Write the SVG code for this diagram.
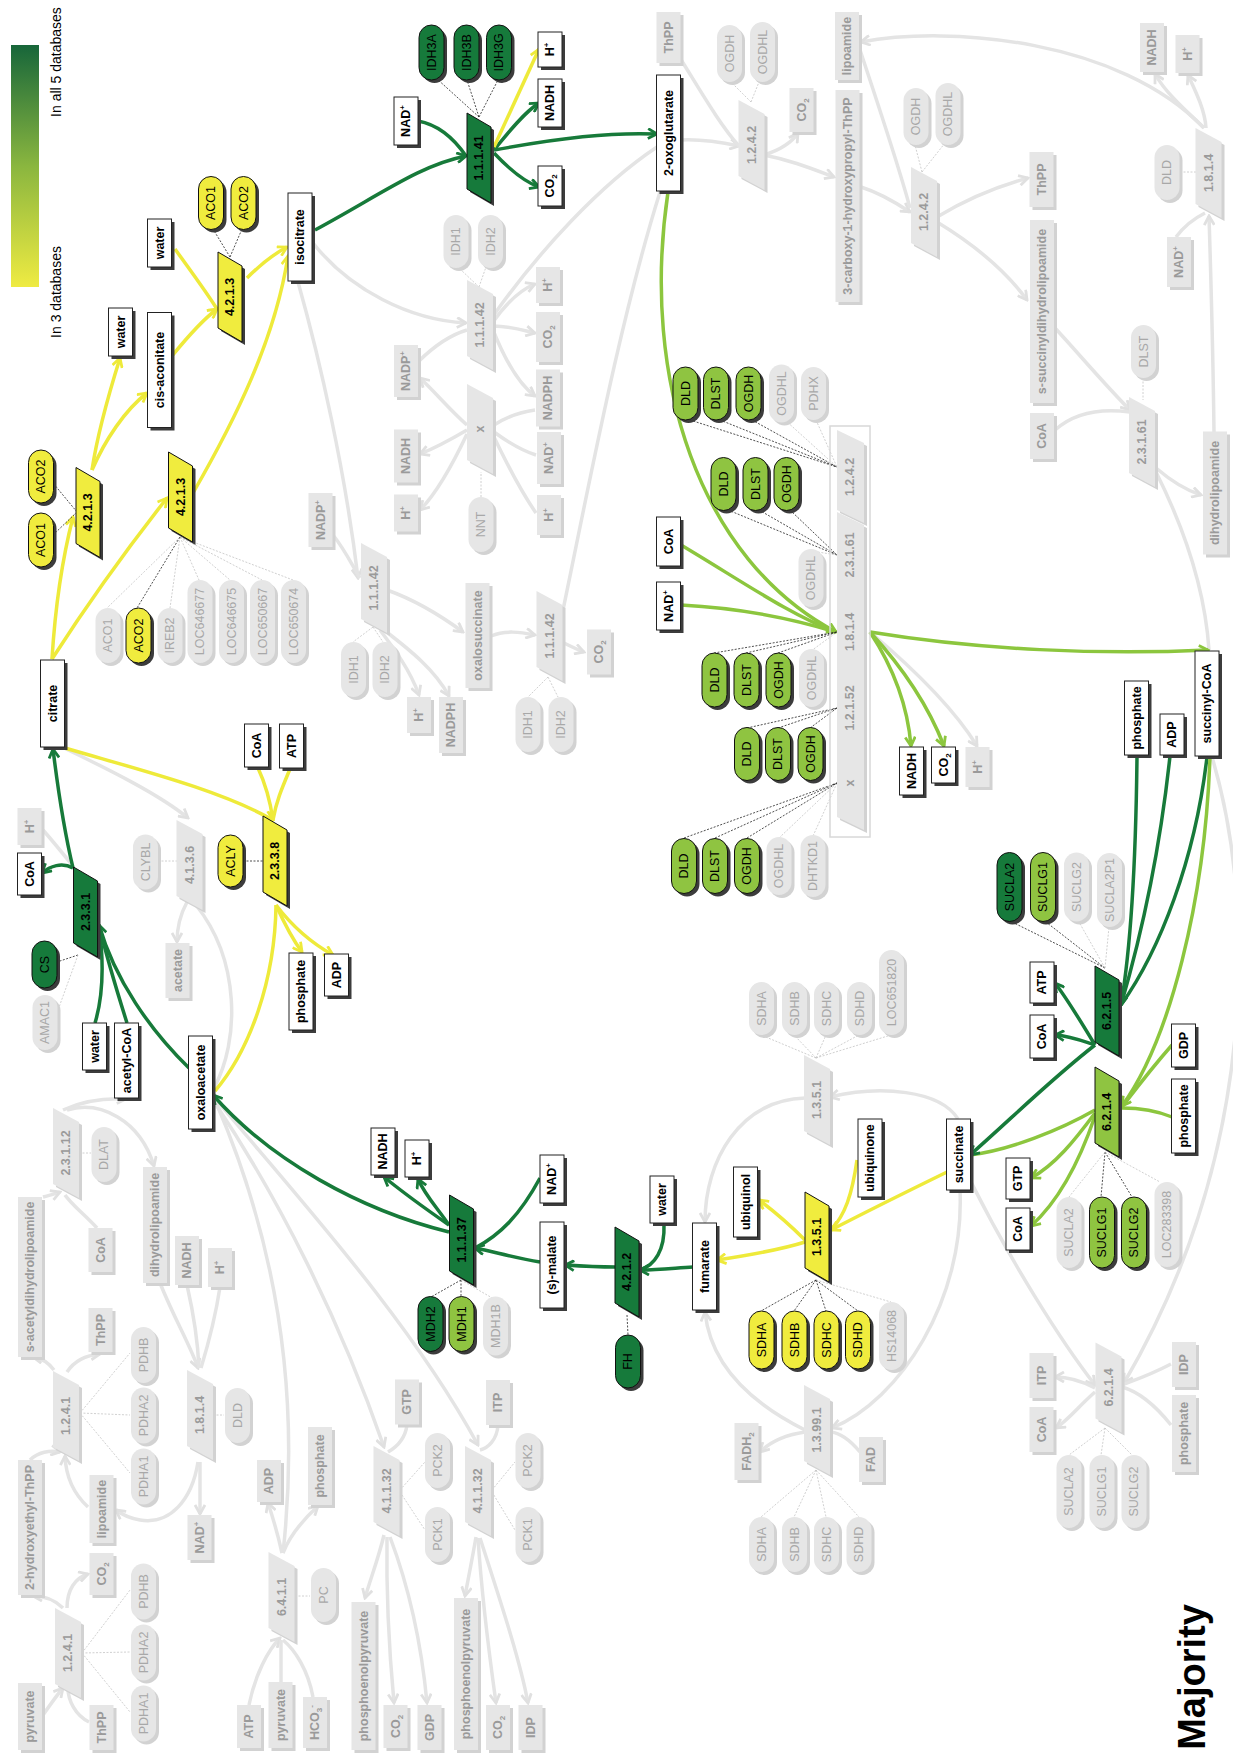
<svg xmlns="http://www.w3.org/2000/svg" width="1233" height="1753" viewBox="0 0 1233 1753">
<style>
text{font-family:"Liberation Sans",Arial,sans-serif;font-size:12.5px;text-anchor:middle}
.b{font-weight:bold;fill:#000}
.bg{font-weight:bold;fill:#9a9a9a}
.n{fill:#000}
.ng{fill:#a8a8a8}
.W{fill:#fff;stroke:#222;stroke-width:1}
.S{fill:#3c3c3c}
.G{fill:#e6e6e6}
.GS{fill:#d2d2d2}
.DG{fill:#167a3b;stroke:#111;stroke-width:1}
.LG{fill:#8fc441;stroke:#111;stroke-width:1}
.YY{fill:#f0ec3e;stroke:#111;stroke-width:1}
.cg{fill:none;stroke:#177a3a;stroke-width:3.5}
.cl{fill:none;stroke:#8cc63e;stroke-width:3.5}
.cy{fill:none;stroke:#eeea3a;stroke-width:3.5}
.ck{fill:none;stroke:#e4e4e4;stroke-width:3.5}
.dk{fill:none;stroke:#222;stroke-width:0.8;stroke-dasharray:2 1.5}
.dg{fill:none;stroke:#c4c4c4;stroke-width:0.8;stroke-dasharray:2 1.5}
</style>
<defs>
<linearGradient id="leg" x1="0" y1="0" x2="0" y2="1">
<stop offset="0" stop-color="#17663a"/><stop offset="0.5" stop-color="#8ab63f"/><stop offset="1" stop-color="#efeb42"/>
</linearGradient>
<marker id="aG" viewBox="0 0 12 12" refX="10" refY="6" markerWidth="12" markerHeight="12" markerUnits="userSpaceOnUse" orient="auto"><path d="M1,1 L10,6 L1,11" fill="none" stroke="#177a3a" stroke-width="2.8"/></marker>
<marker id="aL" viewBox="0 0 12 12" refX="10" refY="6" markerWidth="12" markerHeight="12" markerUnits="userSpaceOnUse" orient="auto"><path d="M1,1 L10,6 L1,11" fill="none" stroke="#8cc63e" stroke-width="2.8"/></marker>
<marker id="aY" viewBox="0 0 12 12" refX="10" refY="6" markerWidth="12" markerHeight="12" markerUnits="userSpaceOnUse" orient="auto"><path d="M1,1 L10,6 L1,11" fill="none" stroke="#eeea3a" stroke-width="2.8"/></marker>
<marker id="aK" viewBox="0 0 12 12" refX="10" refY="6" markerWidth="12" markerHeight="12" markerUnits="userSpaceOnUse" orient="auto"><path d="M1,1 L10,6 L1,11" fill="none" stroke="#e0e0e0" stroke-width="2.8"/></marker>
</defs>
<rect width="1233" height="1753" fill="#fff"/>

<g id="legend">
<rect x="11" y="45" width="28" height="242" fill="url(#leg)"/>
<text transform="translate(56,62) rotate(-90)" dy=".35em" style="font-size:14px">In all 5 databases</text>
<text transform="translate(56,292) rotate(-90)" dy=".35em" style="font-size:14px">In 3 databases</text>
<text transform="translate(1205,1677) rotate(-90)" style="font-size:38px;font-weight:bold">Majority</text>
</g>

<g id="connectors">
<!-- gray -->
<path class="ck" d="M681,140 C700,139 720,142 739,146" marker-end="url(#aK)"/>
<path class="ck" d="M680,58 C700,90 720,125 739,146"/>
<path class="ck" d="M764,155 C780,150 792,142 798,133" marker-end="url(#aK)"/>
<path class="ck" d="M764,155 C790,160 810,168 834,177" marker-end="url(#aK)"/>
<path class="ck" d="M861,187 C880,193 895,202 910,212" marker-end="url(#aK)"/>
<path class="ck" d="M860,50 C880,110 900,170 910,208"/>
<path class="ck" d="M1204,128 C1120,40 950,25 861,42" marker-end="url(#aK)"/>
<path class="ck" d="M1204,128 C1185,110 1165,92 1155,74" marker-end="url(#aK)"/>
<path class="ck" d="M1206,128 C1205,110 1195,90 1188,75" marker-end="url(#aK)"/>
<path class="ck" d="M1176,237 C1185,225 1195,218 1205,213"/>
<path class="ck" d="M1214,432 C1213,350 1211,280 1209,216" marker-end="url(#aK)"/>
<path class="ck" d="M937,217 C965,200 995,187 1028,178" marker-end="url(#aK)"/>
<path class="ck" d="M937,222 C975,245 1005,270 1027,300" marker-end="url(#aK)"/>
<path class="ck" d="M1055,328 C1080,355 1105,385 1130,410" marker-end="url(#aK)"/>
<path class="ck" d="M1055,430 C1075,412 1100,408 1130,412"/>
<path class="ck" d="M1156,468 C1170,480 1185,490 1201,495" marker-end="url(#aK)"/>
<path class="ck" d="M1156,472 C1185,530 1205,590 1209,650"/>
<path class="ck" d="M313,243 C350,290 410,320 466,323" marker-end="url(#aK)"/>
<path class="ck" d="M493,316 C540,250 600,185 657,147"/>
<path class="ck" d="M493,322 C505,305 520,290 535,284" marker-end="url(#aK)"/>
<path class="ck" d="M493,326 C510,326 522,330 535,333" marker-end="url(#aK)"/>
<path class="ck" d="M493,330 C505,360 520,385 535,396" marker-end="url(#aK)"/>
<path class="ck" d="M418,362 C435,345 450,335 467,330"/>
<path class="ck" d="M467,425 C450,410 435,392 420,378" marker-end="url(#aK)"/>
<path class="ck" d="M467,430 C450,440 435,448 420,454" marker-end="url(#aK)"/>
<path class="ck" d="M467,434 C450,470 435,495 420,510" marker-end="url(#aK)"/>
<path class="ck" d="M535,410 C520,412 505,418 494,425"/>
<path class="ck" d="M536,455 C520,450 505,440 494,432"/>
<path class="ck" d="M536,513 C520,490 505,460 494,437"/>
<path class="ck" d="M298,282 C320,360 345,470 358,578" marker-end="url(#aK)"/>
<path class="ck" d="M333,535 C345,550 352,565 360,578"/>
<path class="ck" d="M387,590 C415,600 440,615 463,632" marker-end="url(#aK)"/>
<path class="ck" d="M380,630 C395,650 410,670 419,695" marker-end="url(#aK)"/>
<path class="ck" d="M384,630 C410,650 435,670 449,696" marker-end="url(#aK)"/>
<path class="ck" d="M491,636 C505,630 520,632 535,635" marker-end="url(#aK)"/>
<path class="ck" d="M562,642 C570,646 578,650 584,652" marker-end="url(#aK)"/>
<path class="ck" d="M563,610 C590,480 620,320 660,192"/>
<path class="ck" d="M64,748 C110,770 160,795 188,818" marker-end="url(#aK)"/>
<path class="ck" d="M187,902 C180,915 177,928 177,942" marker-end="url(#aK)"/>
<path class="ck" d="M196,905 C240,960 240,1040 214,1088"/>
<path class="ck" d="M73,866 C60,850 50,838 43,830"/>
<path class="ck" d="M63,1110 C85,1100 105,1098 126,1099" marker-end="url(#aK)"/>
<path class="ck" d="M67,1110 C100,1100 140,1120 154,1166" marker-end="url(#aK)"/>
<path class="ck" d="M43,1197 C50,1195 55,1194 60,1192" marker-end="url(#aK)"/>
<path class="ck" d="M97,1228 C85,1215 72,1205 65,1195"/>
<path class="ck" d="M160,1283 C175,1320 190,1345 198,1368" marker-end="url(#aK)"/>
<path class="ck" d="M187,1285 C195,1320 198,1345 199,1368"/>
<path class="ck" d="M220,1287 C215,1320 208,1345 201,1368"/>
<path class="ck" d="M200,1462 L200,1514" marker-end="url(#aK)"/>
<path class="ck" d="M198,1462 C192,1500 170,1525 140,1520 C128,1518 120,1513 116,1510" marker-end="url(#aK)"/>
<path class="ck" d="M88,1507 C75,1495 66,1480 65,1456" marker-end="url(#aK)"/>
<path class="ck" d="M54,1370 C48,1362 40,1358 33,1357" marker-end="url(#aK)"/>
<path class="ck" d="M67,1372 C75,1360 88,1355 100,1354" marker-end="url(#aK)"/>
<path class="ck" d="M30,1460 C38,1452 50,1450 60,1452" marker-end="url(#aK)"/>
<path class="ck" d="M63,1608 C55,1600 45,1596 33,1596" marker-end="url(#aK)"/>
<path class="ck" d="M67,1608 C67,1590 75,1578 88,1574" marker-end="url(#aK)"/>
<path class="ck" d="M43,1715 C50,1705 57,1695 63,1688" marker-end="url(#aK)"/>
<path class="ck" d="M89,1722 C75,1715 68,1700 68,1688"/>
<path class="ck" d="M249,1705 C255,1675 268,1650 280,1638" marker-end="url(#aK)"/>
<path class="ck" d="M281,1682 L281,1640"/>
<path class="ck" d="M313,1697 C308,1670 295,1650 283,1640"/>
<path class="ck" d="M282,1553 C278,1535 272,1515 268,1503" marker-end="url(#aK)"/>
<path class="ck" d="M283,1553 C290,1535 305,1518 318,1506" marker-end="url(#aK)"/>
<path class="ck" d="M283,1553 C300,1400 280,1250 215,1100"/>
<path class="ck" d="M213,1100 C280,1200 340,1320 384,1447" marker-end="url(#aK)"/>
<path class="ck" d="M213,1096 C300,1200 410,1320 478,1445" marker-end="url(#aK)"/>
<path class="ck" d="M407,1425 C405,1440 395,1448 388,1452"/>
<path class="ck" d="M498,1425 C497,1440 488,1448 480,1450"/>
<path class="ck" d="M384,1535 C378,1560 370,1580 365,1598" marker-end="url(#aK)"/>
<path class="ck" d="M387,1537 C386,1600 390,1660 394,1703" marker-end="url(#aK)"/>
<path class="ck" d="M390,1537 C410,1590 422,1650 427,1703" marker-end="url(#aK)"/>
<path class="ck" d="M476,1537 C472,1560 468,1580 465,1596" marker-end="url(#aK)"/>
<path class="ck" d="M478,1538 C482,1600 490,1660 496,1703" marker-end="url(#aK)"/>
<path class="ck" d="M480,1538 C500,1600 520,1660 528,1703" marker-end="url(#aK)"/>
<path class="ck" d="M805,1098 C740,1100 705,1160 705,1222" marker-end="url(#aK)"/>
<path class="ck" d="M958,1119 C940,1090 880,1085 830,1097" marker-end="url(#aK)"/>
<path class="ck" d="M960,1190 C965,1300 900,1400 832,1428" marker-end="url(#aK)"/>
<path class="ck" d="M805,1430 C745,1400 710,1360 705,1312" marker-end="url(#aK)"/>
<path class="ck" d="M805,1432 C785,1435 770,1442 760,1452" marker-end="url(#aK)"/>
<path class="ck" d="M860,1452 C850,1440 840,1433 831,1432"/>
<path class="ck" d="M970,1180 C1010,1260 1060,1340 1095,1385" marker-end="url(#aK)"/>
<path class="ck" d="M1212,757 C1255,900 1260,1150 1124,1383" marker-end="url(#aK)"/>
<path class="ck" d="M1095,1388 C1080,1380 1068,1377 1055,1377" marker-end="url(#aK)"/>
<path class="ck" d="M1095,1392 C1080,1405 1068,1420 1056,1428" marker-end="url(#aK)"/>
<path class="ck" d="M1171,1364 C1150,1375 1135,1380 1122,1385"/>
<path class="ck" d="M1171,1425 C1155,1405 1140,1392 1122,1387"/>
<path class="ck" d="M870,632 C915,670 955,710 977,746" marker-end="url(#aK)"/>
<!-- dark green -->
<path class="cg" d="M315,230 C380,195 420,165 466,156" marker-end="url(#aG)"/>
<path class="cg" d="M418,121 C440,125 455,140 466,156"/>
<path class="cg" d="M494,150 C560,138 610,132 657,134" marker-end="url(#aG)"/>
<path class="cg" d="M494,150 C510,130 525,112 539,103" marker-end="url(#aG)"/>
<path class="cg" d="M494,153 C510,170 525,182 539,187" marker-end="url(#aG)"/>
<path class="cg" d="M189,1068 C150,1030 115,980 99,925" marker-end="url(#aG)"/>
<path class="cg" d="M95,1023 C105,990 103,955 99,925"/>
<path class="cg" d="M127,1023 C115,985 105,950 99,925"/>
<path class="cg" d="M73,868 C62,862 50,866 42,873" marker-end="url(#aG)"/>
<path class="cg" d="M73,868 C64,830 58,790 53,749" marker-end="url(#aG)"/>
<path class="cg" d="M449,1232 C360,1210 270,1160 213,1095" marker-end="url(#aG)"/>
<path class="cg" d="M449,1225 C420,1205 400,1190 384,1177" marker-end="url(#aG)"/>
<path class="cg" d="M449,1225 C435,1205 425,1195 418,1179" marker-end="url(#aG)"/>
<path class="cg" d="M540,1262 C515,1258 495,1252 475,1248" marker-end="url(#aG)"/>
<path class="cg" d="M540,1178 C520,1215 500,1235 475,1248"/>
<path class="cg" d="M615,1267 C595,1267 580,1266 565,1265" marker-end="url(#aG)"/>
<path class="cg" d="M693,1267 C675,1268 660,1270 640,1270" marker-end="url(#aG)"/>
<path class="cg" d="M664,1224 C665,1250 655,1265 640,1270"/>
<path class="cg" d="M1095,1045 C1080,1040 1070,1036 1055,1035" marker-end="url(#aG)"/>
<path class="cg" d="M1095,1045 C1080,1020 1068,1000 1055,983" marker-end="url(#aG)"/>
<path class="cg" d="M1137,756 C1136,850 1132,940 1121,1005" marker-end="url(#aG)"/>
<path class="cg" d="M1170,756 C1160,850 1140,940 1121,1005"/>
<path class="cg" d="M1207,757 C1195,860 1160,950 1121,1005"/>
<!-- light green -->
<path class="cl" d="M1210,757 C1205,900 1170,1040 1122,1106" marker-end="url(#aL)"/>
<path class="cl" d="M1172,1045 C1150,1070 1135,1090 1122,1107"/>
<path class="cl" d="M1172,1117 C1155,1110 1140,1108 1122,1108"/>
<path class="cl" d="M1095,1110 C1060,1130 1010,1150 970,1155"/>
<path class="cl" d="M1095,1113 C1075,1140 1055,1165 1031,1178" marker-end="url(#aL)"/>
<path class="cl" d="M1095,1116 C1080,1160 1060,1200 1031,1226" marker-end="url(#aL)"/>
<path class="cl" d="M668,192 C640,380 700,560 836,632" marker-end="url(#aL)"/>
<path class="cl" d="M681,545 C740,580 790,615 836,632"/>
<path class="cl" d="M681,605 C740,608 790,618 836,632"/>
<path class="cl" d="M870,632 C980,650 1100,655 1208,650" marker-end="url(#aL)"/>
<path class="cl" d="M870,632 C895,670 908,710 911,746" marker-end="url(#aL)"/>
<path class="cl" d="M870,632 C905,670 930,710 944,746" marker-end="url(#aL)"/>
<path class="cg" d="M1095,1045 C1050,1080 1010,1120 970,1155" marker-end="url(#aG)"/>
<!-- yellow -->
<path class="cy" d="M494,147 L539,49" marker-end="url(#aY)"/>
<path class="cy" d="M52,659 C55,610 62,560 73,517" marker-end="url(#aY)"/>
<path class="cy" d="M52,659 C90,600 130,545 167,498" marker-end="url(#aY)"/>
<path class="cy" d="M92,470 C98,430 110,390 120,358" marker-end="url(#aY)"/>
<path class="cy" d="M92,470 C105,440 125,410 147,393" marker-end="url(#aY)"/>
<path class="cy" d="M172,356 C185,340 200,322 217,309" marker-end="url(#aY)"/>
<path class="cy" d="M175,249 C190,270 205,290 217,309"/>
<path class="cy" d="M247,278 C260,265 272,255 287,247" marker-end="url(#aY)"/>
<path class="cy" d="M193,493 C235,420 275,340 288,256" marker-end="url(#aY)"/>
<path class="cy" d="M65,748 C140,770 220,790 273,820" marker-end="url(#aY)"/>
<path class="cy" d="M258,768 C266,785 270,800 273,820"/>
<path class="cy" d="M290,769 C282,788 276,802 273,820"/>
<path class="cy" d="M276,905 C285,925 293,940 302,952" marker-end="url(#aY)"/>
<path class="cy" d="M276,905 C295,930 315,945 333,955" marker-end="url(#aY)"/>
<path class="cy" d="M276,905 C275,980 250,1050 215,1091"/>
<path class="cy" d="M947,1172 C900,1195 860,1215 831,1230" marker-end="url(#aY)"/>
<path class="cy" d="M857,1160 C852,1195 845,1215 831,1230"/>
<path class="cy" d="M805,1240 C790,1225 775,1212 759,1200" marker-end="url(#aY)"/>
<path class="cy" d="M805,1242 C780,1250 750,1255 717,1260" marker-end="url(#aY)"/>
<!-- gene links -->
<path class="dk" d="M479,117 L436,78 M479,117 L467,80 M479,117 L498,80"/>
<path class="dk" d="M230,257 L213,229 M230,257 L242,229"/>
<path class="dk" d="M77,512 L53,483 M77,512 L53,535"/>
<path class="dg" d="M180,537 L107,608 M180,537 L170,608 M180,537 L199,580 M180,537 L230,580 M180,537 L262,580 M180,537 L293,580"/>
<path class="dk" d="M180,537 L137,608"/>
<path class="dk" d="M78,955 L57,962"/>
<path class="dg" d="M78,955 L58,1010 M158,861 L177,861"/>
<path class="dk" d="M243,861 L263,861"/>
<path class="dg" d="M479,287 L459,268 M479,287 L486,267 M373,627 L353,642 M373,627 L383,642 M548,677 L528,697 M548,677 L558,697 M481,497 L481,472"/>
<path class="dg" d="M751,102 L731,82 M751,102 L759,82 M922,172 L915,145 M922,172 L945,143 M1180,172 L1196,172 M1143,378 L1143,400"/>
<path class="dk" d="M690,420 L837,467 M720,420 L837,467 M752,420 L837,467"/>
<path class="dg" d="M785,420 L837,467 M816,420 L837,467"/>
<path class="dk" d="M728,510 L837,555 M759,510 L837,555 M790,510 L837,555"/>
<path class="dg" d="M811,551 L837,555 M811,651 L837,632 M779,838 L837,783 M813,836 L837,783"/>
<path class="dk" d="M714,653 L837,632 M746,653 L837,632 M778,653 L837,632"/>
<path class="dk" d="M747,728 L837,708 M778,728 L837,708 M810,728 L837,708"/>
<path class="dk" d="M684,838 L837,783 M715,838 L837,783 M747,838 L837,783"/>
<path class="dk" d="M1105,968 L1012,922 M1105,968 L1046,922"/>
<path class="dg" d="M1105,968 L1079,922 M1105,968 L1109,927"/>
<path class="dk" d="M1105,1152 L1101,1197 M1105,1152 L1132,1197"/>
<path class="dg" d="M1105,1152 L1069,1197 M1105,1152 L1160,1182 M1105,1428 L1069,1455 M1105,1428 L1101,1455 M1105,1428 L1132,1455"/>
<path class="dg" d="M816,1058 L761,1035 M816,1058 L794,1035 M816,1058 L826,1035 M816,1058 L859,1035 M816,1058 L891,1035"/>
<path class="dk" d="M816,1280 L761,1311 M816,1280 L794,1311 M816,1280 L826,1311 M816,1280 L858,1311"/>
<path class="dg" d="M816,1280 L891,1302 M816,1470 L761,1517 M816,1470 L794,1517 M816,1470 L826,1517 M816,1470 L859,1517"/>
<path class="dk" d="M461,1280 L431,1297 M461,1280 L461,1297 M627,1315 L628,1335"/>
<path class="dg" d="M461,1280 L494,1299 M79,1153 L91,1153 M213,1415 L224,1415 M295,1596 L310,1596"/>
<path class="dg" d="M80,1413 L130,1353 M80,1413 L130,1415 M80,1413 L130,1473 M82,1653 L130,1590 M82,1653 L130,1652 M82,1653 L130,1712"/>
<path class="dg" d="M400,1490 L425,1462 M400,1492 L425,1530 M492,1490 L515,1462 M492,1492 L515,1530"/>
</g>

<!-- multi enzyme box -->
<g id="e_multi">
<rect x="830" y="426" width="40" height="411" fill="none" stroke="#d8d8d8" stroke-width="1.5"/>
<polygon class="GS" points="840,433 867,446 867,526 840,513"/>
<polygon class="G" points="837,430 864,443 864,523 837,510"/>
<polygon class="GS" points="840,515 867,528 867,833 840,820"/>
<polygon class="G" points="837,512 864,525 864,830 837,817"/>
<text class="bg" transform="translate(850,477) rotate(-90)" dy=".35em">1.2.4.2</text>
<text class="bg" transform="translate(850,555) rotate(-90)" dy=".35em">2.3.1.61</text>
<text class="bg" transform="translate(850,632) rotate(-90)" dy=".35em">1.8.1.4</text>
<text class="bg" transform="translate(850,708) rotate(-90)" dy=".35em">1.2.1.52</text>
<text class="bg" transform="translate(850,783) rotate(-90)" dy=".35em">x</text>
</g>

<!-- white metabolite boxes -->
<g id="m_water1" transform="translate(159.5,243)"><rect class="S" x="-9" y="-21" width="24" height="48"/><rect class="W" x="-12" y="-24" width="24" height="48"/><text class="b" transform="rotate(-90)" dy=".35em">water</text></g>
<g id="m_isocitrate" transform="translate(300,237)"><rect class="S" x="-9" y="-41" width="24" height="88"/><rect class="W" x="-12" y="-44" width="24" height="88"/><text class="b" transform="rotate(-90)" dy=".35em">isocitrate</text></g>
<g id="m_water2" transform="translate(120.5,332)"><rect class="S" x="-9" y="-21" width="24" height="48"/><rect class="W" x="-12" y="-24" width="24" height="48"/><text class="b" transform="rotate(-90)" dy=".35em">water</text></g>
<g id="m_cisaconitate" transform="translate(159.5,370)"><rect class="S" x="-9" y="-54.5" width="24" height="115"/><rect class="W" x="-12" y="-57.5" width="24" height="115"/><text class="b" transform="rotate(-90)" dy=".35em">cis-aconitate</text></g>
<g id="m_nad1" transform="translate(406,121)"><rect class="S" x="-9" y="-21" width="24" height="48"/><rect class="W" x="-12" y="-24" width="24" height="48"/><text class="b" transform="rotate(-90)" dy=".35em">NAD<tspan dy="-5" font-size="8">+</tspan></text></g>
<g id="m_h1" transform="translate(550,49.5)"><rect class="S" x="-9" y="-14.5" width="24" height="35"/><rect class="W" x="-12" y="-17.5" width="24" height="35"/><text class="b" transform="rotate(-90)" dy=".35em">H<tspan dy="-5" font-size="8">+</tspan></text></g>
<g id="m_nadh1" transform="translate(550,103)"><rect class="S" x="-9" y="-21" width="24" height="48"/><rect class="W" x="-12" y="-24" width="24" height="48"/><text class="b" transform="rotate(-90)" dy=".35em">NADH</text></g>
<g id="m_co2_1" transform="translate(550,186)"><rect class="S" x="-9" y="-17" width="24" height="40"/><rect class="W" x="-12" y="-20" width="24" height="40"/><text class="b" transform="rotate(-90)" dy=".35em">CO<tspan dy="3" font-size="8">2</tspan></text></g>
<g id="m_2oxoglutarate" transform="translate(668.5,133)"><rect class="S" x="-9" y="-55" width="24" height="116"/><rect class="W" x="-12" y="-58" width="24" height="116"/><text class="b" transform="rotate(-90)" dy=".35em">2-oxoglutarate</text></g>
<g id="m_coa2" transform="translate(668.5,541.5)"><rect class="S" x="-9" y="-21.5" width="24" height="49"/><rect class="W" x="-12" y="-24.5" width="24" height="49"/><text class="b" transform="rotate(-90)" dy=".35em">CoA</text></g>
<g id="m_nad2" transform="translate(668.5,606)"><rect class="S" x="-9" y="-21" width="24" height="48"/><rect class="W" x="-12" y="-24" width="24" height="48"/><text class="b" transform="rotate(-90)" dy=".35em">NAD<tspan dy="-5" font-size="8">+</tspan></text></g>
<g id="m_nadh3" transform="translate(911.5,771)"><rect class="S" x="-9" y="-21" width="24" height="48"/><rect class="W" x="-12" y="-24" width="24" height="48"/><text class="b" transform="rotate(-90)" dy=".35em">NADH</text></g>
<g id="m_co2_3" transform="translate(943.5,765)"><rect class="S" x="-9" y="-15" width="24" height="36"/><rect class="W" x="-12" y="-18" width="24" height="36"/><text class="b" transform="rotate(-90)" dy=".35em">CO<tspan dy="3" font-size="8">2</tspan></text></g>
<g id="m_phosphate4" transform="translate(1136.5,718)"><rect class="S" x="-9" y="-34" width="24" height="74"/><rect class="W" x="-12" y="-37" width="24" height="74"/><text class="b" transform="rotate(-90)" dy=".35em">phosphate</text></g>
<g id="m_adp4" transform="translate(1172,734.5)"><rect class="S" x="-9" y="-17.5" width="24" height="41"/><rect class="W" x="-12" y="-20.5" width="24" height="41"/><text class="b" transform="rotate(-90)" dy=".35em">ADP</text></g>
<g id="m_succinylcoa" transform="translate(1207,703.5)"><rect class="S" x="-9" y="-49.5" width="24" height="105"/><rect class="W" x="-12" y="-52.5" width="24" height="105"/><text class="b" transform="rotate(-90)" dy=".35em">succinyl-CoA</text></g>
<g id="m_atp5" transform="translate(1042,982.5)"><rect class="S" x="-9" y="-17.5" width="24" height="41"/><rect class="W" x="-12" y="-20.5" width="24" height="41"/><text class="b" transform="rotate(-90)" dy=".35em">ATP</text></g>
<g id="m_coa5" transform="translate(1042,1036.5)"><rect class="S" x="-9" y="-18.5" width="24" height="43"/><rect class="W" x="-12" y="-21.5" width="24" height="43"/><text class="b" transform="rotate(-90)" dy=".35em">CoA</text></g>
<g id="m_gdp" transform="translate(1183.5,1045.5)"><rect class="S" x="-9" y="-18.5" width="24" height="43"/><rect class="W" x="-12" y="-21.5" width="24" height="43"/><text class="b" transform="rotate(-90)" dy=".35em">GDP</text></g>
<g id="m_phosphate6" transform="translate(1183.5,1116)"><rect class="S" x="-9" y="-34" width="24" height="74"/><rect class="W" x="-12" y="-37" width="24" height="74"/><text class="b" transform="rotate(-90)" dy=".35em">phosphate</text></g>
<g id="m_succinate" transform="translate(958.5,1154.5)"><rect class="S" x="-9" y="-32.5" width="24" height="71"/><rect class="W" x="-12" y="-35.5" width="24" height="71"/><text class="b" transform="rotate(-90)" dy=".35em">succinate</text></g>
<g id="m_gtp" transform="translate(1018,1178.5)"><rect class="S" x="-9" y="-17.5" width="24" height="41"/><rect class="W" x="-12" y="-20.5" width="24" height="41"/><text class="b" transform="rotate(-90)" dy=".35em">GTP</text></g>
<g id="m_coa6" transform="translate(1018,1229)"><rect class="S" x="-9" y="-18" width="24" height="42"/><rect class="W" x="-12" y="-21" width="24" height="42"/><text class="b" transform="rotate(-90)" dy=".35em">CoA</text></g>
<g id="m_ubiquinone" transform="translate(870,1158)"><rect class="S" x="-9" y="-36" width="24" height="78"/><rect class="W" x="-12" y="-39" width="24" height="78"/><text class="b" transform="rotate(-90)" dy=".35em">ubiquinone</text></g>
<g id="m_ubiquinol" transform="translate(745.5,1202)"><rect class="S" x="-9" y="-32" width="24" height="70"/><rect class="W" x="-12" y="-35" width="24" height="70"/><text class="b" transform="rotate(-90)" dy=".35em">ubiquinol</text></g>
<g id="m_fumarate" transform="translate(704.5,1266.5)"><rect class="S" x="-9" y="-40.5" width="24" height="87"/><rect class="W" x="-12" y="-43.5" width="24" height="87"/><text class="b" transform="rotate(-90)" dy=".35em">fumarate</text></g>
<g id="m_water7" transform="translate(662,1199.5)"><rect class="S" x="-9" y="-20.5" width="24" height="47"/><rect class="W" x="-12" y="-23.5" width="24" height="47"/><text class="b" transform="rotate(-90)" dy=".35em">water</text></g>
<g id="m_smalate" transform="translate(552,1265)"><rect class="S" x="-9" y="-40" width="24" height="86"/><rect class="W" x="-12" y="-43" width="24" height="86"/><text class="b" transform="rotate(-90)" dy=".35em">(s)-malate</text></g>
<g id="m_nad7" transform="translate(552,1179)"><rect class="S" x="-9" y="-21" width="24" height="48"/><rect class="W" x="-12" y="-24" width="24" height="48"/><text class="b" transform="rotate(-90)" dy=".35em">NAD<tspan dy="-5" font-size="8">+</tspan></text></g>
<g id="m_h7" transform="translate(417,1158.5)"><rect class="S" x="-9" y="-15.5" width="24" height="37"/><rect class="W" x="-12" y="-18.5" width="24" height="37"/><text class="b" transform="rotate(-90)" dy=".35em">H<tspan dy="-5" font-size="8">+</tspan></text></g>
<g id="m_nadh7" transform="translate(383,1151.5)"><rect class="S" x="-9" y="-20.5" width="24" height="47"/><rect class="W" x="-12" y="-23.5" width="24" height="47"/><text class="b" transform="rotate(-90)" dy=".35em">NADH</text></g>
<g id="m_coa8" transform="translate(29.5,874)"><rect class="S" x="-9" y="-18" width="24" height="42"/><rect class="W" x="-12" y="-21" width="24" height="42"/><text class="b" transform="rotate(-90)" dy=".35em">CoA</text></g>
<g id="m_water8" transform="translate(94.5,1046.5)"><rect class="S" x="-9" y="-20.5" width="24" height="47"/><rect class="W" x="-12" y="-23.5" width="24" height="47"/><text class="b" transform="rotate(-90)" dy=".35em">water</text></g>
<g id="m_acetylcoa" transform="translate(126.5,1060.5)"><rect class="S" x="-9" y="-34.5" width="24" height="75"/><rect class="W" x="-12" y="-37.5" width="24" height="75"/><text class="b" transform="rotate(-90)" dy=".35em">acetyl-CoA</text></g>
<g id="m_oxaloacetate" transform="translate(200.5,1082.5)"><rect class="S" x="-9" y="-43.5" width="24" height="93"/><rect class="W" x="-12" y="-46.5" width="24" height="93"/><text class="b" transform="rotate(-90)" dy=".35em">oxaloacetate</text></g>
<g id="m_phosphate9" transform="translate(301,991.5)"><rect class="S" x="-9" y="-35.5" width="24" height="77"/><rect class="W" x="-12" y="-38.5" width="24" height="77"/><text class="b" transform="rotate(-90)" dy=".35em">phosphate</text></g>
<g id="m_adp9" transform="translate(336.5,975)"><rect class="S" x="-9" y="-18" width="24" height="42"/><rect class="W" x="-12" y="-21" width="24" height="42"/><text class="b" transform="rotate(-90)" dy=".35em">ADP</text></g>
<g id="m_coa10" transform="translate(256.5,745.5)"><rect class="S" x="-9" y="-18.5" width="24" height="43"/><rect class="W" x="-12" y="-21.5" width="24" height="43"/><text class="b" transform="rotate(-90)" dy=".35em">CoA</text></g>
<g id="m_atp10" transform="translate(291.5,746)"><rect class="S" x="-9" y="-19" width="24" height="44"/><rect class="W" x="-12" y="-22" width="24" height="44"/><text class="b" transform="rotate(-90)" dy=".35em">ATP</text></g>
<g id="m_citrate" transform="translate(52.5,703.5)"><rect class="S" x="-9" y="-40.5" width="24" height="87"/><rect class="W" x="-12" y="-43.5" width="24" height="87"/><text class="b" transform="rotate(-90)" dy=".35em">citrate</text></g>

<!-- gray metabolite boxes -->
<g id="g_nadp1" transform="translate(406,371)"><rect class="GS" x="-9" y="-23" width="24" height="52"/><rect class="G" x="-12" y="-26" width="24" height="52"/><text class="bg" transform="rotate(-90)" dy=".35em">NADP<tspan dy="-5" font-size="8">+</tspan></text></g>
<g id="g_nadp2" transform="translate(320.5,520)"><rect class="GS" x="-9" y="-24" width="24" height="54"/><rect class="G" x="-12" y="-27" width="24" height="54"/><text class="bg" transform="rotate(-90)" dy=".35em">NADP<tspan dy="-5" font-size="8">+</tspan></text></g>
<g id="g_thpp1" transform="translate(668.5,37.5)"><rect class="GS" x="-9" y="-22.5" width="24" height="51"/><rect class="G" x="-12" y="-25.5" width="24" height="51"/><text class="bg" transform="rotate(-90)" dy=".35em">ThPP</text></g>
<g id="g_co2a" transform="translate(801.5,110)"><rect class="GS" x="-9" y="-19" width="24" height="44"/><rect class="G" x="-12" y="-22" width="24" height="44"/><text class="bg" transform="rotate(-90)" dy=".35em">CO<tspan dy="3" font-size="8">2</tspan></text></g>
<g id="g_h_a" transform="translate(548,285)"><rect class="GS" x="-9" y="-15" width="24" height="36"/><rect class="G" x="-12" y="-18" width="24" height="36"/><text class="bg" transform="rotate(-90)" dy=".35em">H<tspan dy="-5" font-size="8">+</tspan></text></g>
<g id="g_co2b" transform="translate(548,337)"><rect class="GS" x="-9" y="-22" width="24" height="50"/><rect class="G" x="-12" y="-25" width="24" height="50"/><text class="bg" transform="rotate(-90)" dy=".35em">CO<tspan dy="3" font-size="8">2</tspan></text></g>
<g id="g_nadph_a" transform="translate(548,398)"><rect class="GS" x="-9" y="-25.5" width="24" height="57"/><rect class="G" x="-12" y="-28.5" width="24" height="57"/><text class="bg" transform="rotate(-90)" dy=".35em">NADPH</text></g>
<g id="g_nadh_a" transform="translate(406,456)"><rect class="GS" x="-9" y="-23.5" width="24" height="53"/><rect class="G" x="-12" y="-26.5" width="24" height="53"/><text class="bg" transform="rotate(-90)" dy=".35em">NADH</text></g>
<g id="g_h_b" transform="translate(406,513)"><rect class="GS" x="-9" y="-15.5" width="24" height="37"/><rect class="G" x="-12" y="-18.5" width="24" height="37"/><text class="bg" transform="rotate(-90)" dy=".35em">H<tspan dy="-5" font-size="8">+</tspan></text></g>
<g id="g_nad_a" transform="translate(549,458)"><rect class="GS" x="-9" y="-23" width="24" height="52"/><rect class="G" x="-12" y="-26" width="24" height="52"/><text class="bg" transform="rotate(-90)" dy=".35em">NAD<tspan dy="-5" font-size="8">+</tspan></text></g>
<g id="g_h_c" transform="translate(549,515)"><rect class="GS" x="-9" y="-17" width="24" height="40"/><rect class="G" x="-12" y="-20" width="24" height="40"/><text class="bg" transform="rotate(-90)" dy=".35em">H<tspan dy="-5" font-size="8">+</tspan></text></g>
<g id="g_nadph_b" transform="translate(451,725)"><rect class="GS" x="-9" y="-25" width="24" height="56"/><rect class="G" x="-12" y="-28" width="24" height="56"/><text class="bg" transform="rotate(-90)" dy=".35em">NADPH</text></g>
<g id="g_h_d" transform="translate(419,715)"><rect class="GS" x="-9" y="-15" width="24" height="36"/><rect class="G" x="-12" y="-18" width="24" height="36"/><text class="bg" transform="rotate(-90)" dy=".35em">H<tspan dy="-5" font-size="8">+</tspan></text></g>
<g id="g_oxalosuccinate" transform="translate(477.5,635.5)"><rect class="GS" x="-9" y="-49.5" width="24" height="105"/><rect class="G" x="-12" y="-52.5" width="24" height="105"/><text class="bg" transform="rotate(-90)" dy=".35em">oxalosuccinate</text></g>
<g id="g_co2c" transform="translate(599,652)"><rect class="GS" x="-9" y="-19.5" width="24" height="45"/><rect class="G" x="-12" y="-22.5" width="24" height="45"/><text class="bg" transform="rotate(-90)" dy=".35em">CO<tspan dy="3" font-size="8">2</tspan></text></g>
<g id="g_lipoamide_a" transform="translate(847,46)"><rect class="GS" x="-9" y="-31" width="24" height="68"/><rect class="G" x="-12" y="-34" width="24" height="68"/><text class="bg" transform="rotate(-90)" dy=".35em">lipoamide</text></g>
<g id="g_3carboxy" transform="translate(847.5,196)"><rect class="GS" x="-9" y="-103" width="24" height="212"/><rect class="G" x="-12" y="-106" width="24" height="212"/><text class="bg" transform="rotate(-90)" dy=".35em">3-carboxy-1-hydroxypropyl-ThPP</text></g>
<g id="g_thpp2" transform="translate(1041.5,179.5)"><rect class="GS" x="-9" y="-24.5" width="24" height="55"/><rect class="G" x="-12" y="-27.5" width="24" height="55"/><text class="bg" transform="rotate(-90)" dy=".35em">ThPP</text></g>
<g id="g_ssuccinyl" transform="translate(1042,311.5)"><rect class="GS" x="-9" y="-88.5" width="24" height="183"/><rect class="G" x="-12" y="-91.5" width="24" height="183"/><text class="bg" transform="rotate(-90)" dy=".35em">s-succinyldihydrolipoamide</text></g>
<g id="g_nadh_b" transform="translate(1152,47.5)"><rect class="GS" x="-9" y="-21.5" width="24" height="49"/><rect class="G" x="-12" y="-24.5" width="24" height="49"/><text class="bg" transform="rotate(-90)" dy=".35em">NADH</text></g>
<g id="g_h_e" transform="translate(1187.5,54)"><rect class="GS" x="-9" y="-16" width="24" height="38"/><rect class="G" x="-12" y="-19" width="24" height="38"/><text class="bg" transform="rotate(-90)" dy=".35em">H<tspan dy="-5" font-size="8">+</tspan></text></g>
<g id="g_nad_b" transform="translate(1179,262)"><rect class="GS" x="-9" y="-22" width="24" height="50"/><rect class="G" x="-12" y="-25" width="24" height="50"/><text class="bg" transform="rotate(-90)" dy=".35em">NAD<tspan dy="-5" font-size="8">+</tspan></text></g>
<g id="g_coa_a" transform="translate(1042,436)"><rect class="GS" x="-9" y="-20" width="24" height="46"/><rect class="G" x="-12" y="-23" width="24" height="46"/><text class="bg" transform="rotate(-90)" dy=".35em">CoA</text></g>
<g id="g_dihydro_a" transform="translate(1215,493)"><rect class="GS" x="-9" y="-58.5" width="24" height="123"/><rect class="G" x="-12" y="-61.5" width="24" height="123"/><text class="bg" transform="rotate(-90)" dy=".35em">dihydrolipoamide</text></g>
<g id="g_h_f" transform="translate(977.5,767)"><rect class="GS" x="-9" y="-17" width="24" height="40"/><rect class="G" x="-12" y="-20" width="24" height="40"/><text class="bg" transform="rotate(-90)" dy=".35em">H<tspan dy="-5" font-size="8">+</tspan></text></g>
<g id="g_h_g" transform="translate(29.5,826.5)"><rect class="GS" x="-9" y="-15.5" width="24" height="37"/><rect class="G" x="-12" y="-18.5" width="24" height="37"/><text class="bg" transform="rotate(-90)" dy=".35em">H<tspan dy="-5" font-size="8">+</tspan></text></g>
<g id="g_acetate" transform="translate(177.5,970.5)"><rect class="GS" x="-9" y="-24.5" width="24" height="55"/><rect class="G" x="-12" y="-27.5" width="24" height="55"/><text class="bg" transform="rotate(-90)" dy=".35em">acetate</text></g>
<g id="g_sacetyl" transform="translate(30,1277)"><rect class="GS" x="-9" y="-77" width="24" height="160"/><rect class="G" x="-12" y="-80" width="24" height="160"/><text class="bg" transform="rotate(-90)" dy=".35em">s-acetyldihydrolipoamide</text></g>
<g id="g_coa_b" transform="translate(100.5,1250)"><rect class="GS" x="-9" y="-19" width="24" height="44"/><rect class="G" x="-12" y="-22" width="24" height="44"/><text class="bg" transform="rotate(-90)" dy=".35em">CoA</text></g>
<g id="g_dihydro_b" transform="translate(155,1225)"><rect class="GS" x="-9" y="-55" width="24" height="116"/><rect class="G" x="-12" y="-58" width="24" height="116"/><text class="bg" transform="rotate(-90)" dy=".35em">dihydrolipoamide</text></g>
<g id="g_nadh_c" transform="translate(187,1260.5)"><rect class="GS" x="-9" y="-21.5" width="24" height="49"/><rect class="G" x="-12" y="-24.5" width="24" height="49"/><text class="bg" transform="rotate(-90)" dy=".35em">NADH</text></g>
<g id="g_h_h" transform="translate(220,1267.5)"><rect class="GS" x="-9" y="-16.5" width="24" height="39"/><rect class="G" x="-12" y="-19.5" width="24" height="39"/><text class="bg" transform="rotate(-90)" dy=".35em">H<tspan dy="-5" font-size="8">+</tspan></text></g>
<g id="g_thpp3" transform="translate(100.5,1330)"><rect class="GS" x="-9" y="-19" width="24" height="44"/><rect class="G" x="-12" y="-22" width="24" height="44"/><text class="bg" transform="rotate(-90)" dy=".35em">ThPP</text></g>
<g id="g_nad_c" transform="translate(199.5,1537.5)"><rect class="GS" x="-9" y="-19.5" width="24" height="45"/><rect class="G" x="-12" y="-22.5" width="24" height="45"/><text class="bg" transform="rotate(-90)" dy=".35em">NAD<tspan dy="-5" font-size="8">+</tspan></text></g>
<g id="g_lipoamide_b" transform="translate(101.5,1509)"><rect class="GS" x="-9" y="-31" width="24" height="68"/><rect class="G" x="-12" y="-34" width="24" height="68"/><text class="bg" transform="rotate(-90)" dy=".35em">lipoamide</text></g>
<g id="g_2hydroxy" transform="translate(30,1527.5)"><rect class="GS" x="-9" y="-64.5" width="24" height="135"/><rect class="G" x="-12" y="-67.5" width="24" height="135"/><text class="bg" transform="rotate(-90)" dy=".35em">2-hydroxyethyl-ThPP</text></g>
<g id="g_co2d" transform="translate(101.5,1574)"><rect class="GS" x="-9" y="-18" width="24" height="42"/><rect class="G" x="-12" y="-21" width="24" height="42"/><text class="bg" transform="rotate(-90)" dy=".35em">CO<tspan dy="3" font-size="8">2</tspan></text></g>
<g id="g_pyruvate_a" transform="translate(30,1716.5)"><rect class="GS" x="-9" y="-30.5" width="24" height="67"/><rect class="G" x="-12" y="-33.5" width="24" height="67"/><text class="bg" transform="rotate(-90)" dy=".35em">pyruvate</text></g>
<g id="g_thpp4" transform="translate(101.5,1727.5)"><rect class="GS" x="-9" y="-19.5" width="24" height="45"/><rect class="G" x="-12" y="-22.5" width="24" height="45"/><text class="bg" transform="rotate(-90)" dy=".35em">ThPP</text></g>
<g id="g_adp" transform="translate(269,1481)"><rect class="GS" x="-9" y="-18" width="24" height="42"/><rect class="G" x="-12" y="-21" width="24" height="42"/><text class="bg" transform="rotate(-90)" dy=".35em">ADP</text></g>
<g id="g_phosphate_a" transform="translate(320,1466)"><rect class="GS" x="-9" y="-36" width="24" height="78"/><rect class="G" x="-12" y="-39" width="24" height="78"/><text class="bg" transform="rotate(-90)" dy=".35em">phosphate</text></g>
<g id="g_atp" transform="translate(249,1726.5)"><rect class="GS" x="-9" y="-18.5" width="24" height="43"/><rect class="G" x="-12" y="-21.5" width="24" height="43"/><text class="bg" transform="rotate(-90)" dy=".35em">ATP</text></g>
<g id="g_pyruvate_b" transform="translate(280.5,1715)"><rect class="GS" x="-9" y="-30" width="24" height="66"/><rect class="G" x="-12" y="-33" width="24" height="66"/><text class="bg" transform="rotate(-90)" dy=".35em">pyruvate</text></g>
<g id="g_hco3" transform="translate(315,1722.5)"><rect class="GS" x="-9" y="-22.5" width="24" height="51"/><rect class="G" x="-12" y="-25.5" width="24" height="51"/><text class="bg" transform="rotate(-90)" dy=".35em">HCO<tspan dy="3" font-size="8">3</tspan><tspan dy="-8" font-size="8">-</tspan></text></g>
<g id="g_pep_a" transform="translate(363.5,1676)"><rect class="GS" x="-9" y="-71" width="24" height="148"/><rect class="G" x="-12" y="-74" width="24" height="148"/><text class="bg" transform="rotate(-90)" dy=".35em">phosphoenolpyruvate</text></g>
<g id="g_co2e" transform="translate(395.5,1726.5)"><rect class="GS" x="-9" y="-18.5" width="24" height="43"/><rect class="G" x="-12" y="-21.5" width="24" height="43"/><text class="bg" transform="rotate(-90)" dy=".35em">CO<tspan dy="3" font-size="8">2</tspan></text></g>
<g id="g_gtp" transform="translate(407,1402)"><rect class="GS" x="-9" y="-19.5" width="24" height="45"/><rect class="G" x="-12" y="-22.5" width="24" height="45"/><text class="bg" transform="rotate(-90)" dy=".35em">GTP</text></g>
<g id="g_itp_a" transform="translate(498,1402.5)"><rect class="GS" x="-9" y="-19.5" width="24" height="45"/><rect class="G" x="-12" y="-22.5" width="24" height="45"/><text class="bg" transform="rotate(-90)" dy=".35em">ITP</text></g>
<g id="g_gdp" transform="translate(429.5,1727.5)"><rect class="GS" x="-9" y="-19.5" width="24" height="45"/><rect class="G" x="-12" y="-22.5" width="24" height="45"/><text class="bg" transform="rotate(-90)" dy=".35em">GDP</text></g>
<g id="g_pep_b" transform="translate(466,1674)"><rect class="GS" x="-9" y="-73" width="24" height="152"/><rect class="G" x="-12" y="-76" width="24" height="152"/><text class="bg" transform="rotate(-90)" dy=".35em">phosphoenolpyruvate</text></g>
<g id="g_co2f" transform="translate(498,1727.5)"><rect class="GS" x="-9" y="-19.5" width="24" height="45"/><rect class="G" x="-12" y="-22.5" width="24" height="45"/><text class="bg" transform="rotate(-90)" dy=".35em">CO<tspan dy="3" font-size="8">2</tspan></text></g>
<g id="g_idp_a" transform="translate(530.5,1727.5)"><rect class="GS" x="-9" y="-19.5" width="24" height="45"/><rect class="G" x="-12" y="-22.5" width="24" height="45"/><text class="bg" transform="rotate(-90)" dy=".35em">IDP</text></g>
<g id="g_fadh2" transform="translate(746.5,1451.5)"><rect class="GS" x="-9" y="-25.5" width="24" height="57"/><rect class="G" x="-12" y="-28.5" width="24" height="57"/><text class="bg" transform="rotate(-90)" dy=".35em">FADH<tspan dy="3" font-size="8">2</tspan></text></g>
<g id="g_fad" transform="translate(871,1459.5)"><rect class="GS" x="-9" y="-19.5" width="24" height="45"/><rect class="G" x="-12" y="-22.5" width="24" height="45"/><text class="bg" transform="rotate(-90)" dy=".35em">FAD</text></g>
<g id="g_itp_b" transform="translate(1041.5,1375.5)"><rect class="GS" x="-9" y="-19.5" width="24" height="45"/><rect class="G" x="-12" y="-22.5" width="24" height="45"/><text class="bg" transform="rotate(-90)" dy=".35em">ITP</text></g>
<g id="g_coa_c" transform="translate(1041.5,1429.5)"><rect class="GS" x="-9" y="-19.5" width="24" height="45"/><rect class="G" x="-12" y="-22.5" width="24" height="45"/><text class="bg" transform="rotate(-90)" dy=".35em">CoA</text></g>
<g id="g_idp_b" transform="translate(1184,1364.5)"><rect class="GS" x="-9" y="-19.5" width="24" height="45"/><rect class="G" x="-12" y="-22.5" width="24" height="45"/><text class="bg" transform="rotate(-90)" dy=".35em">IDP</text></g>
<g id="g_phosphate_b" transform="translate(1184,1433.5)"><rect class="GS" x="-9" y="-35.5" width="24" height="77"/><rect class="G" x="-12" y="-38.5" width="24" height="77"/><text class="bg" transform="rotate(-90)" dy=".35em">phosphate</text></g>

<!-- colored gene pills -->
<g id="p_aco1a" transform="translate(211,203)"><rect class="S" x="-9.5" y="-23.5" width="25" height="53" rx="12.5"/><rect class="YY" x="-12.5" y="-26.5" width="25" height="53" rx="12.5"/><text class="n" transform="rotate(-90)" dy=".35em">ACO1</text></g>
<g id="p_aco2a" transform="translate(243.5,203)"><rect class="S" x="-9.5" y="-23.5" width="25" height="53" rx="12.5"/><rect class="YY" x="-12.5" y="-26.5" width="25" height="53" rx="12.5"/><text class="n" transform="rotate(-90)" dy=".35em">ACO2</text></g>
<g id="p_idh3a" transform="translate(431.5,52.5)"><rect class="S" x="-9.5" y="-24.5" width="25" height="55" rx="12.5"/><rect class="DG" x="-12.5" y="-27.5" width="25" height="55" rx="12.5"/><text class="n" transform="rotate(-90)" dy=".35em">IDH3A</text></g>
<g id="p_idh3b" transform="translate(466.5,52.5)"><rect class="S" x="-9.5" y="-24.5" width="25" height="55" rx="12.5"/><rect class="DG" x="-12.5" y="-27.5" width="25" height="55" rx="12.5"/><text class="n" transform="rotate(-90)" dy=".35em">IDH3B</text></g>
<g id="p_idh3g" transform="translate(499,52.5)"><rect class="S" x="-9.5" y="-24.5" width="25" height="55" rx="12.5"/><rect class="DG" x="-12.5" y="-27.5" width="25" height="55" rx="12.5"/><text class="n" transform="rotate(-90)" dy=".35em">IDH3G</text></g>
<g id="p_aco2b" transform="translate(41,476.5)"><rect class="S" x="-9.5" y="-23.5" width="25" height="53" rx="12.5"/><rect class="YY" x="-12.5" y="-26.5" width="25" height="53" rx="12.5"/><text class="n" transform="rotate(-90)" dy=".35em">ACO2</text></g>
<g id="p_aco1b" transform="translate(41,540)"><rect class="S" x="-9.5" y="-24" width="25" height="54" rx="12.5"/><rect class="YY" x="-12.5" y="-27" width="25" height="54" rx="12.5"/><text class="n" transform="rotate(-90)" dy=".35em">ACO1</text></g>
<g id="p_aco2c" transform="translate(138.5,635.5)"><rect class="S" x="-9.5" y="-24.5" width="25" height="55" rx="12.5"/><rect class="YY" x="-12.5" y="-27.5" width="25" height="55" rx="12.5"/><text class="n" transform="rotate(-90)" dy=".35em">ACO2</text></g>
<g id="p_acly" transform="translate(230.5,861)"><rect class="S" x="-9.5" y="-23" width="25" height="52" rx="12.5"/><rect class="YY" x="-12.5" y="-26" width="25" height="52" rx="12.5"/><text class="n" transform="rotate(-90)" dy=".35em">ACLY</text></g>
<g id="p_cs" transform="translate(44.5,964.5)"><rect class="S" x="-9.5" y="-20.5" width="25" height="47" rx="12.5"/><rect class="DG" x="-12.5" y="-23.5" width="25" height="47" rx="12.5"/><text class="n" transform="rotate(-90)" dy=".35em">CS</text></g>
<g id="p_g1" transform="translate(0,0)">
<g transform="translate(685.5,393.5)"><rect class="S" x="-9.5" y="-23.5" width="25" height="53" rx="12.5"/><rect class="LG" x="-12.5" y="-26.5" width="25" height="53" rx="12.5"/><text class="n" transform="rotate(-90)" dy=".35em">DLD</text></g>
<g transform="translate(716,393.5)"><rect class="S" x="-9.5" y="-23.5" width="25" height="53" rx="12.5"/><rect class="LG" x="-12.5" y="-26.5" width="25" height="53" rx="12.5"/><text class="n" transform="rotate(-90)" dy=".35em">DLST</text></g>
<g transform="translate(748.5,393.5)"><rect class="S" x="-9.5" y="-23.5" width="25" height="53" rx="12.5"/><rect class="LG" x="-12.5" y="-26.5" width="25" height="53" rx="12.5"/><text class="n" transform="rotate(-90)" dy=".35em">OGDH</text></g>
</g>
<g id="p_g2">
<g transform="translate(723.5,484)"><rect class="S" x="-9.5" y="-23.5" width="25" height="53" rx="12.5"/><rect class="LG" x="-12.5" y="-26.5" width="25" height="53" rx="12.5"/><text class="n" transform="rotate(-90)" dy=".35em">DLD</text></g>
<g transform="translate(755.5,484)"><rect class="S" x="-9.5" y="-23.5" width="25" height="53" rx="12.5"/><rect class="LG" x="-12.5" y="-26.5" width="25" height="53" rx="12.5"/><text class="n" transform="rotate(-90)" dy=".35em">DLST</text></g>
<g transform="translate(786.5,484)"><rect class="S" x="-9.5" y="-23.5" width="25" height="53" rx="12.5"/><rect class="LG" x="-12.5" y="-26.5" width="25" height="53" rx="12.5"/><text class="n" transform="rotate(-90)" dy=".35em">OGDH</text></g>
</g>
<g id="p_g3">
<g transform="translate(714.5,680)"><rect class="S" x="-9.5" y="-24" width="25" height="54" rx="12.5"/><rect class="LG" x="-12.5" y="-27" width="25" height="54" rx="12.5"/><text class="n" transform="rotate(-90)" dy=".35em">DLD</text></g>
<g transform="translate(746.5,680)"><rect class="S" x="-9.5" y="-24" width="25" height="54" rx="12.5"/><rect class="LG" x="-12.5" y="-27" width="25" height="54" rx="12.5"/><text class="n" transform="rotate(-90)" dy=".35em">DLST</text></g>
<g transform="translate(778.5,680)"><rect class="S" x="-9.5" y="-24" width="25" height="54" rx="12.5"/><rect class="LG" x="-12.5" y="-27" width="25" height="54" rx="12.5"/><text class="n" transform="rotate(-90)" dy=".35em">OGDH</text></g>
</g>
<g id="p_g4">
<g transform="translate(747,754)"><rect class="S" x="-9.5" y="-23.5" width="25" height="53" rx="12.5"/><rect class="LG" x="-12.5" y="-26.5" width="25" height="53" rx="12.5"/><text class="n" transform="rotate(-90)" dy=".35em">DLD</text></g>
<g transform="translate(778,754)"><rect class="S" x="-9.5" y="-23.5" width="25" height="53" rx="12.5"/><rect class="LG" x="-12.5" y="-26.5" width="25" height="53" rx="12.5"/><text class="n" transform="rotate(-90)" dy=".35em">DLST</text></g>
<g transform="translate(810.5,754)"><rect class="S" x="-9.5" y="-23.5" width="25" height="53" rx="12.5"/><rect class="LG" x="-12.5" y="-26.5" width="25" height="53" rx="12.5"/><text class="n" transform="rotate(-90)" dy=".35em">OGDH</text></g>
</g>
<g id="p_g5">
<g transform="translate(684,866)"><rect class="S" x="-9.5" y="-24.5" width="25" height="55" rx="12.5"/><rect class="LG" x="-12.5" y="-27.5" width="25" height="55" rx="12.5"/><text class="n" transform="rotate(-90)" dy=".35em">DLD</text></g>
<g transform="translate(715,866)"><rect class="S" x="-9.5" y="-24.5" width="25" height="55" rx="12.5"/><rect class="LG" x="-12.5" y="-27.5" width="25" height="55" rx="12.5"/><text class="n" transform="rotate(-90)" dy=".35em">DLST</text></g>
<g transform="translate(747,866)"><rect class="S" x="-9.5" y="-24.5" width="25" height="55" rx="12.5"/><rect class="LG" x="-12.5" y="-27.5" width="25" height="55" rx="12.5"/><text class="n" transform="rotate(-90)" dy=".35em">OGDH</text></g>
</g>
<g id="p_sucla2a" transform="translate(1009.5,887)"><rect class="S" x="-9.5" y="-31.5" width="25" height="69" rx="12.5"/><rect class="DG" x="-12.5" y="-34.5" width="25" height="69" rx="12.5"/><text class="n" transform="rotate(-90)" dy=".35em">SUCLA2</text></g>
<g id="p_suclg1a" transform="translate(1043,887)"><rect class="S" x="-9.5" y="-31.5" width="25" height="69" rx="12.5"/><rect class="LG" x="-12.5" y="-34.5" width="25" height="69" rx="12.5"/><text class="n" transform="rotate(-90)" dy=".35em">SUCLG1</text></g>
<g id="p_suclg1b" transform="translate(1102,1232.5)"><rect class="S" x="-9.5" y="-32.5" width="25" height="71" rx="12.5"/><rect class="LG" x="-12.5" y="-35.5" width="25" height="71" rx="12.5"/><text class="n" transform="rotate(-90)" dy=".35em">SUCLG1</text></g>
<g id="p_suclg2b" transform="translate(1134,1232.5)"><rect class="S" x="-9.5" y="-32.5" width="25" height="71" rx="12.5"/><rect class="LG" x="-12.5" y="-35.5" width="25" height="71" rx="12.5"/><text class="n" transform="rotate(-90)" dy=".35em">SUCLG2</text></g>
<g id="p_mdh2" transform="translate(430.5,1324)"><rect class="S" x="-9.5" y="-24.5" width="25" height="55" rx="12.5"/><rect class="DG" x="-12.5" y="-27.5" width="25" height="55" rx="12.5"/><text class="n" transform="rotate(-90)" dy=".35em">MDH2</text></g>
<g id="p_mdh1" transform="translate(461.5,1324)"><rect class="S" x="-9.5" y="-24.5" width="25" height="55" rx="12.5"/><rect class="LG" x="-12.5" y="-27.5" width="25" height="55" rx="12.5"/><text class="n" transform="rotate(-90)" dy=".35em">MDH1</text></g>
<g id="p_fh" transform="translate(628,1361.5)"><rect class="S" x="-9.5" y="-23.5" width="25" height="53" rx="12.5"/><rect class="DG" x="-12.5" y="-26.5" width="25" height="53" rx="12.5"/><text class="n" transform="rotate(-90)" dy=".35em">FH</text></g>
<g id="p_sdh_y">
<g transform="translate(761.5,1340)"><rect class="S" x="-9.5" y="-26" width="25" height="58" rx="12.5"/><rect class="YY" x="-12.5" y="-29" width="25" height="58" rx="12.5"/><text class="n" transform="rotate(-90)" dy=".35em">SDHA</text></g>
<g transform="translate(794.5,1340)"><rect class="S" x="-9.5" y="-26" width="25" height="58" rx="12.5"/><rect class="YY" x="-12.5" y="-29" width="25" height="58" rx="12.5"/><text class="n" transform="rotate(-90)" dy=".35em">SDHB</text></g>
<g transform="translate(826.5,1340)"><rect class="S" x="-9.5" y="-26" width="25" height="58" rx="12.5"/><rect class="YY" x="-12.5" y="-29" width="25" height="58" rx="12.5"/><text class="n" transform="rotate(-90)" dy=".35em">SDHC</text></g>
<g transform="translate(858,1340)"><rect class="S" x="-9.5" y="-26" width="25" height="58" rx="12.5"/><rect class="YY" x="-12.5" y="-29" width="25" height="58" rx="12.5"/><text class="n" transform="rotate(-90)" dy=".35em">SDHD</text></g>
</g>

<!-- gray gene pills -->
<g id="q_ogdh_a" transform="translate(729.5,53.5)"><rect class="GS" x="-9.5" y="-25.5" width="25" height="57" rx="12.5"/><rect class="G" x="-12.5" y="-28.5" width="25" height="57" rx="12.5"/><text class="ng" transform="rotate(-90)" dy=".35em">OGDH</text></g>
<g id="q_ogdhl_a" transform="translate(762.5,52)"><rect class="GS" x="-9.5" y="-27" width="25" height="60" rx="12.5"/><rect class="G" x="-12.5" y="-30" width="25" height="60" rx="12.5"/><text class="ng" transform="rotate(-90)" dy=".35em">OGDHL</text></g>
<g id="q_idh1_a" transform="translate(456,241.5)"><rect class="GS" x="-9.5" y="-23.5" width="25" height="53" rx="12.5"/><rect class="G" x="-12.5" y="-26.5" width="25" height="53" rx="12.5"/><text class="ng" transform="rotate(-90)" dy=".35em">IDH1</text></g>
<g id="q_idh2_a" transform="translate(490.5,241.5)"><rect class="GS" x="-9.5" y="-23.5" width="25" height="53" rx="12.5"/><rect class="G" x="-12.5" y="-26.5" width="25" height="53" rx="12.5"/><text class="ng" transform="rotate(-90)" dy=".35em">IDH2</text></g>
<g id="q_nnt" transform="translate(481,524.5)"><rect class="GS" x="-9.5" y="-24.5" width="25" height="55" rx="12.5"/><rect class="G" x="-12.5" y="-27.5" width="25" height="55" rx="12.5"/><text class="ng" transform="rotate(-90)" dy=".35em">NNT</text></g>
<g id="q_idh1_b" transform="translate(528,724.5)"><rect class="GS" x="-9.5" y="-24.5" width="25" height="55" rx="12.5"/><rect class="G" x="-12.5" y="-27.5" width="25" height="55" rx="12.5"/><text class="ng" transform="rotate(-90)" dy=".35em">IDH1</text></g>
<g id="q_idh2_b" transform="translate(561,724.5)"><rect class="GS" x="-9.5" y="-24.5" width="25" height="55" rx="12.5"/><rect class="G" x="-12.5" y="-27.5" width="25" height="55" rx="12.5"/><text class="ng" transform="rotate(-90)" dy=".35em">IDH2</text></g>
<g id="q_ogdhl_b" transform="translate(781.5,393.5)"><rect class="GS" x="-9.5" y="-26" width="25" height="58" rx="12.5"/><rect class="G" x="-12.5" y="-29" width="25" height="58" rx="12.5"/><text class="ng" transform="rotate(-90)" dy=".35em">OGDHL</text></g>
<g id="q_pdhx" transform="translate(813.5,393.5)"><rect class="GS" x="-9.5" y="-23.5" width="25" height="53" rx="12.5"/><rect class="G" x="-12.5" y="-26.5" width="25" height="53" rx="12.5"/><text class="ng" transform="rotate(-90)" dy=".35em">PDHX</text></g>
<g id="q_ogdhl_c" transform="translate(811,578)"><rect class="GS" x="-9.5" y="-26" width="25" height="58" rx="12.5"/><rect class="G" x="-12.5" y="-29" width="25" height="58" rx="12.5"/><text class="ng" transform="rotate(-90)" dy=".35em">OGDHL</text></g>
<g id="q_ogdhl_d" transform="translate(811.5,678)"><rect class="GS" x="-9.5" y="-26" width="25" height="58" rx="12.5"/><rect class="G" x="-12.5" y="-29" width="25" height="58" rx="12.5"/><text class="ng" transform="rotate(-90)" dy=".35em">OGDHL</text></g>
<g id="q_ogdhl_e" transform="translate(779,866)"><rect class="GS" x="-9.5" y="-26" width="25" height="58" rx="12.5"/><rect class="G" x="-12.5" y="-29" width="25" height="58" rx="12.5"/><text class="ng" transform="rotate(-90)" dy=".35em">OGDHL</text></g>
<g id="q_dhtkd1" transform="translate(813,866)"><rect class="GS" x="-9.5" y="-28" width="25" height="62" rx="12.5"/><rect class="G" x="-12.5" y="-31" width="25" height="62" rx="12.5"/><text class="ng" transform="rotate(-90)" dy=".35em">DHTKD1</text></g>
<g id="q_ogdh_b" transform="translate(916,116.5)"><rect class="GS" x="-9.5" y="-25.5" width="25" height="57" rx="12.5"/><rect class="G" x="-12.5" y="-28.5" width="25" height="57" rx="12.5"/><text class="ng" transform="rotate(-90)" dy=".35em">OGDH</text></g>
<g id="q_ogdhl_f" transform="translate(948,114)"><rect class="GS" x="-9.5" y="-28" width="25" height="62" rx="12.5"/><rect class="G" x="-12.5" y="-31" width="25" height="62" rx="12.5"/><text class="ng" transform="rotate(-90)" dy=".35em">OGDHL</text></g>
<g id="q_dld_a" transform="translate(1167,172.5)"><rect class="GS" x="-9.5" y="-24.5" width="25" height="55" rx="12.5"/><rect class="G" x="-12.5" y="-27.5" width="25" height="55" rx="12.5"/><text class="ng" transform="rotate(-90)" dy=".35em">DLD</text></g>
<g id="q_dlst" transform="translate(1143.5,351.5)"><rect class="GS" x="-9.5" y="-23.5" width="25" height="53" rx="12.5"/><rect class="G" x="-12.5" y="-26.5" width="25" height="53" rx="12.5"/><text class="ng" transform="rotate(-90)" dy=".35em">DLST</text></g>
<g id="q_aco1" transform="translate(108,635.5)"><rect class="GS" x="-9.5" y="-24.5" width="25" height="55" rx="12.5"/><rect class="G" x="-12.5" y="-27.5" width="25" height="55" rx="12.5"/><text class="ng" transform="rotate(-90)" dy=".35em">ACO1</text></g>
<g id="q_ireb2" transform="translate(170,635.5)"><rect class="GS" x="-9.5" y="-24.5" width="25" height="55" rx="12.5"/><rect class="G" x="-12.5" y="-27.5" width="25" height="55" rx="12.5"/><text class="ng" transform="rotate(-90)" dy=".35em">IREB2</text></g>
<g id="q_loc646677" transform="translate(200,621.5)"><rect class="GS" x="-9.5" y="-38.5" width="25" height="83" rx="12.5"/><rect class="G" x="-12.5" y="-41.5" width="25" height="83" rx="12.5"/><text class="ng" transform="rotate(-90)" dy=".35em">LOC646677</text></g>
<g id="q_loc646675" transform="translate(231.5,621.5)"><rect class="GS" x="-9.5" y="-38.5" width="25" height="83" rx="12.5"/><rect class="G" x="-12.5" y="-41.5" width="25" height="83" rx="12.5"/><text class="ng" transform="rotate(-90)" dy=".35em">LOC646675</text></g>
<g id="q_loc650667" transform="translate(262.5,621.5)"><rect class="GS" x="-9.5" y="-38.5" width="25" height="83" rx="12.5"/><rect class="G" x="-12.5" y="-41.5" width="25" height="83" rx="12.5"/><text class="ng" transform="rotate(-90)" dy=".35em">LOC650667</text></g>
<g id="q_loc650674" transform="translate(293.5,621.5)"><rect class="GS" x="-9.5" y="-38.5" width="25" height="83" rx="12.5"/><rect class="G" x="-12.5" y="-41.5" width="25" height="83" rx="12.5"/><text class="ng" transform="rotate(-90)" dy=".35em">LOC650674</text></g>
<g id="q_idh1_c" transform="translate(353.5,669.5)"><rect class="GS" x="-9.5" y="-24.5" width="25" height="55" rx="12.5"/><rect class="G" x="-12.5" y="-27.5" width="25" height="55" rx="12.5"/><text class="ng" transform="rotate(-90)" dy=".35em">IDH1</text></g>
<g id="q_idh2_c" transform="translate(385,669.5)"><rect class="GS" x="-9.5" y="-24.5" width="25" height="55" rx="12.5"/><rect class="G" x="-12.5" y="-27.5" width="25" height="55" rx="12.5"/><text class="ng" transform="rotate(-90)" dy=".35em">IDH2</text></g>
<g id="q_clybl" transform="translate(145.5,862)"><rect class="GS" x="-9.5" y="-24.5" width="25" height="55" rx="12.5"/><rect class="G" x="-12.5" y="-27.5" width="25" height="55" rx="12.5"/><text class="ng" transform="rotate(-90)" dy=".35em">CLYBL</text></g>
<g id="q_amac1" transform="translate(45,1022.5)"><rect class="GS" x="-9.5" y="-24.5" width="25" height="55" rx="12.5"/><rect class="G" x="-12.5" y="-27.5" width="25" height="55" rx="12.5"/><text class="ng" transform="rotate(-90)" dy=".35em">AMAC1</text></g>
<g id="q_suclg2a" transform="translate(1076.5,887)"><rect class="GS" x="-9.5" y="-31.5" width="25" height="69" rx="12.5"/><rect class="G" x="-12.5" y="-34.5" width="25" height="69" rx="12.5"/><text class="ng" transform="rotate(-90)" dy=".35em">SUCLG2</text></g>
<g id="q_sucla2p1" transform="translate(1109.5,890)"><rect class="GS" x="-9.5" y="-34" width="25" height="74" rx="12.5"/><rect class="G" x="-12.5" y="-37" width="25" height="74" rx="12.5"/><text class="ng" transform="rotate(-90)" dy=".35em">SUCLA2P1</text></g>
<g id="q_sucla2b" transform="translate(1069,1232.5)"><rect class="GS" x="-9.5" y="-32.5" width="25" height="71" rx="12.5"/><rect class="G" x="-12.5" y="-35.5" width="25" height="71" rx="12.5"/><text class="ng" transform="rotate(-90)" dy=".35em">SUCLA2</text></g>
<g id="q_loc283398" transform="translate(1167,1224.5)"><rect class="GS" x="-9.5" y="-39.5" width="25" height="85" rx="12.5"/><rect class="G" x="-12.5" y="-42.5" width="25" height="85" rx="12.5"/><text class="ng" transform="rotate(-90)" dy=".35em">LOC283398</text></g>
<g id="q_sdh_a">
<g transform="translate(761.5,1008.5)"><rect class="GS" x="-9.5" y="-23.5" width="25" height="53" rx="12.5"/><rect class="G" x="-12.5" y="-26.5" width="25" height="53" rx="12.5"/><text class="ng" transform="rotate(-90)" dy=".35em">SDHA</text></g>
<g transform="translate(794.5,1008.5)"><rect class="GS" x="-9.5" y="-23.5" width="25" height="53" rx="12.5"/><rect class="G" x="-12.5" y="-26.5" width="25" height="53" rx="12.5"/><text class="ng" transform="rotate(-90)" dy=".35em">SDHB</text></g>
<g transform="translate(826.5,1008.5)"><rect class="GS" x="-9.5" y="-23.5" width="25" height="53" rx="12.5"/><rect class="G" x="-12.5" y="-26.5" width="25" height="53" rx="12.5"/><text class="ng" transform="rotate(-90)" dy=".35em">SDHC</text></g>
<g transform="translate(859.5,1008.5)"><rect class="GS" x="-9.5" y="-23.5" width="25" height="53" rx="12.5"/><rect class="G" x="-12.5" y="-26.5" width="25" height="53" rx="12.5"/><text class="ng" transform="rotate(-90)" dy=".35em">SDHD</text></g>
<g transform="translate(891.5,992.5)"><rect class="GS" x="-9.5" y="-39.5" width="25" height="85" rx="12.5"/><rect class="G" x="-12.5" y="-42.5" width="25" height="85" rx="12.5"/><text class="ng" transform="rotate(-90)" dy=".35em">LOC651820</text></g>
</g>
<g id="q_mdh1b" transform="translate(495.5,1326)"><rect class="GS" x="-9.5" y="-26.5" width="25" height="59" rx="12.5"/><rect class="G" x="-12.5" y="-29.5" width="25" height="59" rx="12.5"/><text class="ng" transform="rotate(-90)" dy=".35em">MDH1B</text></g>
<g id="q_hs14068" transform="translate(891.5,1336)"><rect class="GS" x="-9.5" y="-31" width="25" height="68" rx="12.5"/><rect class="G" x="-12.5" y="-34" width="25" height="68" rx="12.5"/><text class="ng" transform="rotate(-90)" dy=".35em">HS14068</text></g>
<g id="q_dlat" transform="translate(104,1154.5)"><rect class="GS" x="-9.5" y="-24.5" width="25" height="55" rx="12.5"/><rect class="G" x="-12.5" y="-27.5" width="25" height="55" rx="12.5"/><text class="ng" transform="rotate(-90)" dy=".35em">DLAT</text></g>
<g id="q_pdh_a">
<g transform="translate(143.5,1355)"><rect class="GS" x="-9.5" y="-25" width="25" height="56" rx="12.5"/><rect class="G" x="-12.5" y="-28" width="25" height="56" rx="12.5"/><text class="ng" transform="rotate(-90)" dy=".35em">PDHB</text></g>
<g transform="translate(143.5,1415.5)"><rect class="GS" x="-9.5" y="-25" width="25" height="56" rx="12.5"/><rect class="G" x="-12.5" y="-28" width="25" height="56" rx="12.5"/><text class="ng" transform="rotate(-90)" dy=".35em">PDHA2</text></g>
<g transform="translate(143.5,1476.5)"><rect class="GS" x="-9.5" y="-25" width="25" height="56" rx="12.5"/><rect class="G" x="-12.5" y="-28" width="25" height="56" rx="12.5"/><text class="ng" transform="rotate(-90)" dy=".35em">PDHA1</text></g>
</g>
<g id="q_dld_b" transform="translate(237.5,1415.5)"><rect class="GS" x="-9.5" y="-24.5" width="25" height="55" rx="12.5"/><rect class="G" x="-12.5" y="-27.5" width="25" height="55" rx="12.5"/><text class="ng" transform="rotate(-90)" dy=".35em">DLD</text></g>
<g id="q_pdh_b">
<g transform="translate(143.5,1591.5)"><rect class="GS" x="-9.5" y="-25" width="25" height="56" rx="12.5"/><rect class="G" x="-12.5" y="-28" width="25" height="56" rx="12.5"/><text class="ng" transform="rotate(-90)" dy=".35em">PDHB</text></g>
<g transform="translate(143.5,1652.5)"><rect class="GS" x="-9.5" y="-25" width="25" height="56" rx="12.5"/><rect class="G" x="-12.5" y="-28" width="25" height="56" rx="12.5"/><text class="ng" transform="rotate(-90)" dy=".35em">PDHA2</text></g>
<g transform="translate(143.5,1713.5)"><rect class="GS" x="-9.5" y="-25" width="25" height="56" rx="12.5"/><rect class="G" x="-12.5" y="-28" width="25" height="56" rx="12.5"/><text class="ng" transform="rotate(-90)" dy=".35em">PDHA1</text></g>
</g>
<g id="q_pc" transform="translate(323.5,1595)"><rect class="GS" x="-9.5" y="-24" width="25" height="54" rx="12.5"/><rect class="G" x="-12.5" y="-27" width="25" height="54" rx="12.5"/><text class="ng" transform="rotate(-90)" dy=".35em">PC</text></g>
<g id="q_pck_a">
<g transform="translate(437.5,1460.5)"><rect class="GS" x="-9.5" y="-24.5" width="25" height="55" rx="12.5"/><rect class="G" x="-12.5" y="-27.5" width="25" height="55" rx="12.5"/><text class="ng" transform="rotate(-90)" dy=".35em">PCK2</text></g>
<g transform="translate(437.5,1534.5)"><rect class="GS" x="-9.5" y="-24.5" width="25" height="55" rx="12.5"/><rect class="G" x="-12.5" y="-27.5" width="25" height="55" rx="12.5"/><text class="ng" transform="rotate(-90)" dy=".35em">PCK1</text></g>
</g>
<g id="q_pck_b">
<g transform="translate(528,1460.5)"><rect class="GS" x="-9.5" y="-24.5" width="25" height="55" rx="12.5"/><rect class="G" x="-12.5" y="-27.5" width="25" height="55" rx="12.5"/><text class="ng" transform="rotate(-90)" dy=".35em">PCK2</text></g>
<g transform="translate(528,1534.5)"><rect class="GS" x="-9.5" y="-24.5" width="25" height="55" rx="12.5"/><rect class="G" x="-12.5" y="-27.5" width="25" height="55" rx="12.5"/><text class="ng" transform="rotate(-90)" dy=".35em">PCK1</text></g>
</g>
<g id="q_sdh_b">
<g transform="translate(761.5,1544.5)"><rect class="GS" x="-9.5" y="-24.5" width="25" height="55" rx="12.5"/><rect class="G" x="-12.5" y="-27.5" width="25" height="55" rx="12.5"/><text class="ng" transform="rotate(-90)" dy=".35em">SDHA</text></g>
<g transform="translate(794.5,1544.5)"><rect class="GS" x="-9.5" y="-24.5" width="25" height="55" rx="12.5"/><rect class="G" x="-12.5" y="-27.5" width="25" height="55" rx="12.5"/><text class="ng" transform="rotate(-90)" dy=".35em">SDHB</text></g>
<g transform="translate(826.5,1544.5)"><rect class="GS" x="-9.5" y="-24.5" width="25" height="55" rx="12.5"/><rect class="G" x="-12.5" y="-27.5" width="25" height="55" rx="12.5"/><text class="ng" transform="rotate(-90)" dy=".35em">SDHC</text></g>
<g transform="translate(859,1544.5)"><rect class="GS" x="-9.5" y="-24.5" width="25" height="55" rx="12.5"/><rect class="G" x="-12.5" y="-27.5" width="25" height="55" rx="12.5"/><text class="ng" transform="rotate(-90)" dy=".35em">SDHD</text></g>
</g>
<g id="q_sucl_c">
<g transform="translate(1069,1491.5)"><rect class="GS" x="-9.5" y="-33.5" width="25" height="73" rx="12.5"/><rect class="G" x="-12.5" y="-36.5" width="25" height="73" rx="12.5"/><text class="ng" transform="rotate(-90)" dy=".35em">SUCLA2</text></g>
<g transform="translate(1102,1491.5)"><rect class="GS" x="-9.5" y="-33.5" width="25" height="73" rx="12.5"/><rect class="G" x="-12.5" y="-36.5" width="25" height="73" rx="12.5"/><text class="ng" transform="rotate(-90)" dy=".35em">SUCLG1</text></g>
<g transform="translate(1134,1491.5)"><rect class="GS" x="-9.5" y="-33.5" width="25" height="73" rx="12.5"/><rect class="G" x="-12.5" y="-36.5" width="25" height="73" rx="12.5"/><text class="ng" transform="rotate(-90)" dy=".35em">SUCLG2</text></g>
</g>

<!-- colored enzymes -->
<g id="e_4213a" transform="translate(230,297)"><polygon class="S" points="-9,-42 15,-28 15,48 -9,34"/><polygon class="YY" points="-12,-45 12,-31 12,45 -12,31"/><text class="b" transform="rotate(-90)" dy=".35em">4.2.1.3</text></g>
<g id="e_11141" transform="translate(479,158)"><polygon class="S" points="-9,-42 15,-28 15,48 -9,34"/><polygon class="DG" points="-12,-45 12,-31 12,45 -12,31"/><text class="b" transform="rotate(-90)" dy=".35em">1.1.1.41</text></g>
<g id="e_4213b" transform="translate(88,512.5)"><polygon class="S" points="-9,-42 15,-28 15,48 -9,34"/><polygon class="YY" points="-12,-45 12,-31 12,45 -12,31"/><text class="b" transform="rotate(-90)" dy=".35em">4.2.1.3</text></g>
<g id="e_4213c" transform="translate(180.5,497)"><polygon class="S" points="-9,-42 15,-28 15,48 -9,34"/><polygon class="YY" points="-12,-45 12,-31 12,45 -12,31"/><text class="b" transform="rotate(-90)" dy=".35em">4.2.1.3</text></g>
<g id="e_2331" transform="translate(85.5,912)"><polygon class="S" points="-9,-42 15,-28 15,48 -9,34"/><polygon class="DG" points="-12,-45 12,-31 12,45 -12,31"/><text class="b" transform="rotate(-90)" dy=".35em">2.3.3.1</text></g>
<g id="e_2338" transform="translate(275,861)"><polygon class="S" points="-9,-42 15,-28 15,48 -9,34"/><polygon class="YY" points="-12,-45 12,-31 12,45 -12,31"/><text class="b" transform="rotate(-90)" dy=".35em">2.3.3.8</text></g>
<g id="e_11137" transform="translate(461.5,1240)"><polygon class="S" points="-9,-42 15,-28 15,48 -9,34"/><polygon class="DG" points="-12,-45 12,-31 12,45 -12,31"/><text class="b" transform="rotate(-90)" dy=".35em">1.1.1.37</text></g>
<g id="e_4212" transform="translate(627,1272)"><polygon class="S" points="-9,-42 15,-28 15,48 -9,34"/><polygon class="DG" points="-12,-45 12,-31 12,45 -12,31"/><text class="b" transform="rotate(-90)" dy=".35em">4.2.1.2</text></g>
<g id="e_1351y" transform="translate(817,1237)"><polygon class="S" points="-9,-42 15,-28 15,48 -9,34"/><polygon class="YY" points="-12,-45 12,-31 12,45 -12,31"/><text class="b" transform="rotate(-90)" dy=".35em">1.3.5.1</text></g>
<g id="e_6215" transform="translate(1107,1011)"><polygon class="S" points="-9,-42 15,-28 15,48 -9,34"/><polygon class="DG" points="-12,-45 12,-31 12,45 -12,31"/><text class="b" transform="rotate(-90)" dy=".35em">6.2.1.5</text></g>
<g id="e_6214" transform="translate(1107,1112)"><polygon class="S" points="-9,-42 15,-28 15,48 -9,34"/><polygon class="LG" points="-12,-45 12,-31 12,45 -12,31"/><text class="b" transform="rotate(-90)" dy=".35em">6.2.1.4</text></g>

<!-- gray enzymes -->
<g id="f_1242a" transform="translate(751.5,145)"><polygon class="GS" points="-10,-42 16,-28 16,48 -10,34"/><polygon class="G" points="-13,-45 13,-31 13,45 -13,31"/><text class="bg" transform="rotate(-90)" dy=".35em">1.2.4.2</text></g>
<g id="f_11142a" transform="translate(480,325)"><polygon class="GS" points="-10,-42 16,-28 16,48 -10,34"/><polygon class="G" points="-13,-45 13,-31 13,45 -13,31"/><text class="bg" transform="rotate(-90)" dy=".35em">1.1.1.42</text></g>
<g id="f_x" transform="translate(480,429)"><polygon class="GS" points="-10,-42 16,-28 16,48 -10,34"/><polygon class="G" points="-13,-45 13,-31 13,45 -13,31"/><text class="bg" transform="rotate(-90)" dy=".35em">x</text></g>
<g id="f_11142b" transform="translate(374,588)"><polygon class="GS" points="-10,-42 16,-28 16,48 -10,34"/><polygon class="G" points="-13,-45 13,-31 13,45 -13,31"/><text class="bg" transform="rotate(-90)" dy=".35em">1.1.1.42</text></g>
<g id="f_11142c" transform="translate(549.5,636)"><polygon class="GS" points="-10,-42 16,-28 16,48 -10,34"/><polygon class="G" points="-13,-45 13,-31 13,45 -13,31"/><text class="bg" transform="rotate(-90)" dy=".35em">1.1.1.42</text></g>
<g id="f_1242b" transform="translate(924,212)"><polygon class="GS" points="-10,-42 16,-28 16,48 -10,34"/><polygon class="G" points="-13,-45 13,-31 13,45 -13,31"/><text class="bg" transform="rotate(-90)" dy=".35em">1.2.4.2</text></g>
<g id="f_1814a" transform="translate(1208.5,173)"><polygon class="GS" points="-10,-42 16,-28 16,48 -10,34"/><polygon class="G" points="-13,-45 13,-31 13,45 -13,31"/><text class="bg" transform="rotate(-90)" dy=".35em">1.8.1.4</text></g>
<g id="f_23161" transform="translate(1142,442)"><polygon class="GS" points="-10,-42 16,-28 16,48 -10,34"/><polygon class="G" points="-13,-45 13,-31 13,45 -13,31"/><text class="bg" transform="rotate(-90)" dy=".35em">2.3.1.61</text></g>
<g id="f_4136" transform="translate(189.5,865)"><polygon class="GS" points="-10,-42 16,-28 16,48 -10,34"/><polygon class="G" points="-13,-45 13,-31 13,45 -13,31"/><text class="bg" transform="rotate(-90)" dy=".35em">4.1.3.6</text></g>
<g id="f_23112" transform="translate(66,1153)"><polygon class="GS" points="-10,-42 16,-28 16,48 -10,34"/><polygon class="G" points="-13,-45 13,-31 13,45 -13,31"/><text class="bg" transform="rotate(-90)" dy=".35em">2.3.1.12</text></g>
<g id="f_1241a" transform="translate(66,1416)"><polygon class="GS" points="-10,-42 16,-28 16,48 -10,34"/><polygon class="G" points="-13,-45 13,-31 13,45 -13,31"/><text class="bg" transform="rotate(-90)" dy=".35em">1.2.4.1</text></g>
<g id="f_1814b" transform="translate(200,1415)"><polygon class="GS" points="-10,-42 16,-28 16,48 -10,34"/><polygon class="G" points="-13,-45 13,-31 13,45 -13,31"/><text class="bg" transform="rotate(-90)" dy=".35em">1.8.1.4</text></g>
<g id="f_1241b" transform="translate(68,1653)"><polygon class="GS" points="-10,-42 16,-28 16,48 -10,34"/><polygon class="G" points="-13,-45 13,-31 13,45 -13,31"/><text class="bg" transform="rotate(-90)" dy=".35em">1.2.4.1</text></g>
<g id="f_6411" transform="translate(281.5,1597)"><polygon class="GS" points="-10,-42 16,-28 16,48 -10,34"/><polygon class="G" points="-13,-45 13,-31 13,45 -13,31"/><text class="bg" transform="rotate(-90)" dy=".35em">6.4.1.1</text></g>
<g id="f_41132a" transform="translate(386.5,1491)"><polygon class="GS" points="-10,-42 16,-28 16,48 -10,34"/><polygon class="G" points="-13,-45 13,-31 13,45 -13,31"/><text class="bg" transform="rotate(-90)" dy=".35em">4.1.1.32</text></g>
<g id="f_41132b" transform="translate(478,1491)"><polygon class="GS" points="-10,-42 16,-28 16,48 -10,34"/><polygon class="G" points="-13,-45 13,-31 13,45 -13,31"/><text class="bg" transform="rotate(-90)" dy=".35em">4.1.1.32</text></g>
<g id="f_1351g" transform="translate(817,1100)"><polygon class="GS" points="-10,-42 16,-28 16,48 -10,34"/><polygon class="G" points="-13,-45 13,-31 13,45 -13,31"/><text class="bg" transform="rotate(-90)" dy=".35em">1.3.5.1</text></g>
<g id="f_13991" transform="translate(817,1430)"><polygon class="GS" points="-10,-42 16,-28 16,48 -10,34"/><polygon class="G" points="-13,-45 13,-31 13,45 -13,31"/><text class="bg" transform="rotate(-90)" dy=".35em">1.3.99.1</text></g>
<g id="f_6214g" transform="translate(1108.5,1387.5)"><polygon class="GS" points="-10,-42 16,-28 16,48 -10,34"/><polygon class="G" points="-13,-45 13,-31 13,45 -13,31"/><text class="bg" transform="rotate(-90)" dy=".35em">6.2.1.4</text></g>
</svg>
